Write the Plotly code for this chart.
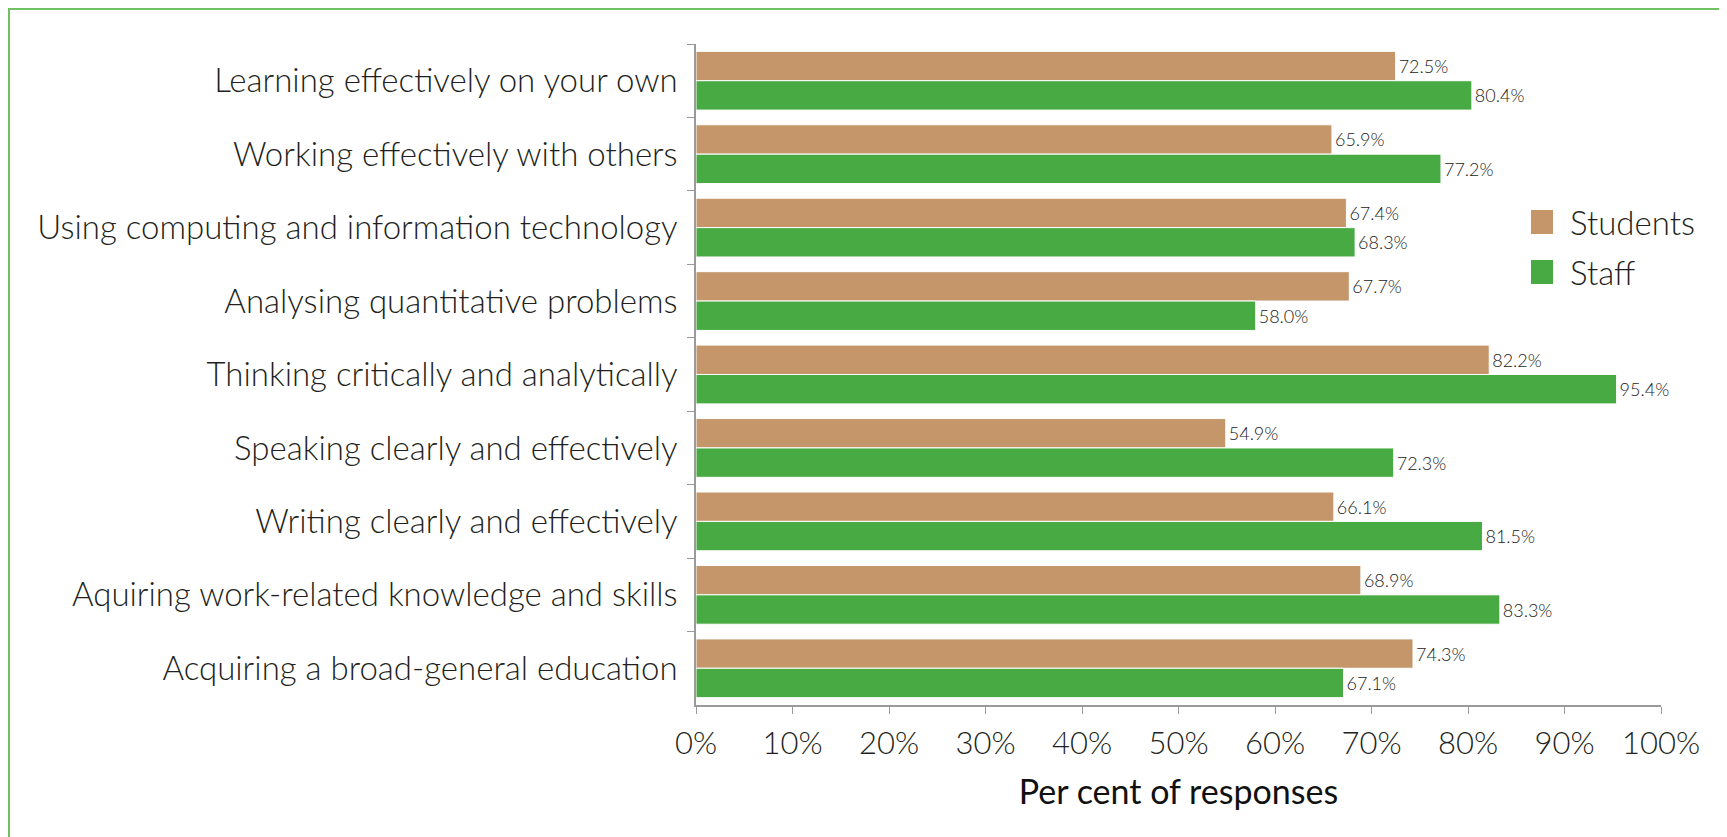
import plotly.graph_objects as go

categories = [
    "Learning effectively on your own",
    "Working effectively with others",
    "Using computing and information technology",
    "Analysing quantitative problems",
    "Thinking critically and analytically",
    "Speaking clearly and effectively",
    "Writing clearly and effectively",
    "Aquiring work-related knowledge and skills",
    "Acquiring a broad-general education",
]
students = [72.5, 65.9, 67.4, 67.7, 82.2, 54.9, 66.1, 68.9, 74.3]
staff = [80.4, 77.2, 68.3, 58.0, 95.4, 72.3, 81.5, 83.3, 67.1]
series_names = ["Students", "Staff"]
x_ticks = [0, 10, 20, 30, 40, 50, 60, 70, 80, 90, 100]
x_tick_labels = [f"{t}%" for t in x_ticks]

FONT = "Lato"
TAN = "#C4966A"
GREEN = "#48AA42"
TXT = "#231F20"

fig = go.Figure()
for name, vals, col in [(series_names[0], students, TAN), (series_names[1], staff, GREEN)]:
    fig.add_trace(go.Bar(
        y=categories, x=vals, name=name, orientation="h",
        marker=dict(color=col, line=dict(color="white", width=1)),
        texttemplate="%{x:.1f}%", textposition="outside", cliponaxis=False,
        textfont=dict(family=FONT, size=18, color="#222222", weight=300),
        showlegend=False,
    ))

W, H = 1727, 837
L, R, T, B = 688, 74, 36, 140
pw, ph = W - L - R, H - T - B

fig.update_layout(
    width=W, height=H,
    margin=dict(l=L, r=R, t=T, b=B),
    paper_bgcolor="white", plot_bgcolor="white",
    barmode="group", bargap=0.2, bargroupgap=0.0,
    font=dict(family=FONT, color=TXT),
    showlegend=False,
)

fig.update_yaxes(
    autorange="reversed", type="category",
    showline=True, linecolor="#9a9a9a", linewidth=1.5,
    ticks="outside", ticklen=7, tickcolor="#9a9a9a", tickson="boundaries",
    tickfont=dict(family=FONT, size=33, color=TXT, weight=300),
    ticklabelstandoff=10, showgrid=False,
)
fig.update_xaxes(
    range=[0, 100], tickvals=x_ticks, ticktext=x_tick_labels,
    showline=True, linecolor="#9a9a9a", linewidth=1.5,
    ticks="outside", ticklen=7, tickcolor="#9a9a9a",
    tickfont=dict(family=FONT, size=31, color=TXT, weight=300),
    ticklabelstandoff=3, showgrid=False, zeroline=False,
    title=dict(text="Per cent of responses",
               font=dict(family=FONT, size=34, color="#111111"), standoff=20),
)

# manual legend (large square swatches like the reference)
def px_x(px):
    return (px - L) / pw

def px_y(py):
    return 1 - (py - T) / ph

legend_rows = [(series_names[0], TAN, 214), (series_names[1], GREEN, 264)]
for name, col, cy in legend_rows:
    fig.add_shape(type="rect", xref="paper", yref="paper",
                  x0=px_x(1523), x1=px_x(1545), y0=px_y(cy + 12), y1=px_y(cy - 12),
                  fillcolor=col, line=dict(color=col, width=0))
    fig.add_annotation(xref="paper", yref="paper", x=px_x(1560), y=px_y(cy),
                       xanchor="left", yanchor="middle", text=name, showarrow=False,
                       font=dict(family=FONT, size=33, color=TXT, weight=300))

# green frame around the figure
fig.add_shape(
    type="rect", xref="paper", yref="paper",
    x0=px_x(1), x1=px_x(1716),
    y0=-0.3, y1=px_y(1),
    line=dict(color="#72C064", width=2), fillcolor="rgba(0,0,0,0)", layer="below",
)

fig.write_html("out.html")
